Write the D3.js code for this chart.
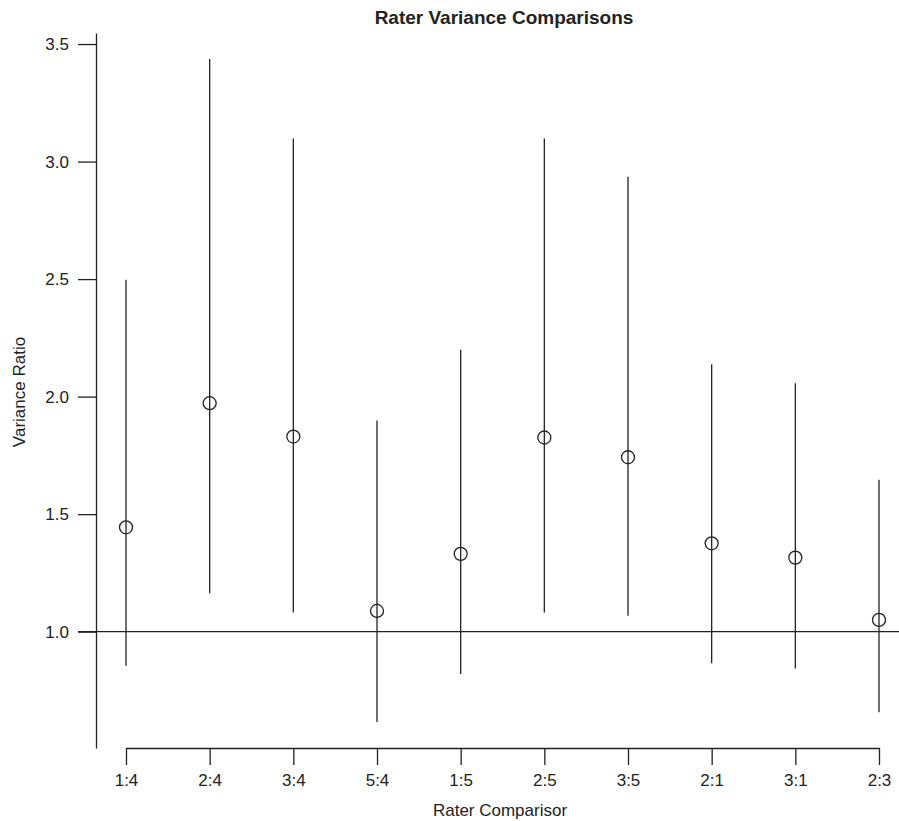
<!DOCTYPE html>
<html>
<head>
<meta charset="utf-8">
<script src="https://cdn.jsdelivr.net/npm/d3@7"></script>
<style>
  html, body { margin: 0; padding: 0; background: #fff; }
  svg { display: block; }
  text { font-family: "Liberation Sans", Arial, Helvetica, sans-serif; fill: #222; }
</style>
</head>
<body>
<svg id="chart" width="899" height="821"></svg>
<script>
// ---- data ----
const categories = ["1:4", "2:4", "3:4", "5:4", "1:5", "2:5", "3:5", "2:1", "3:1", "2:3"];
const estimates  = [1.444, 1.972, 1.830, 1.088, 1.331, 1.826, 1.742, 1.376, 1.315, 1.050];
const lowerCI    = [0.855, 1.163, 1.081, 0.616, 0.820, 1.081, 1.068, 0.866, 0.843, 0.657];
const upperCI    = [2.497, 3.436, 3.098, 1.898, 2.199, 3.098, 2.935, 2.138, 2.057, 1.646];
const yTicks     = [1.0, 1.5, 2.0, 2.5, 3.0, 3.5];
const referenceValue = 1.0;
const titleText  = "Rater Variance Comparisons";
const xLabel     = "Rater Comparisor";
const yLabel     = "Variance Ratio";

const svg = d3.select("#chart");
const ink = "#222";

const x = d3.scalePoint().domain(categories).range([126, 879]);
const y = d3.scaleLinear().domain([0.505, 3.547]).range([748, 33]);

// y axis
const yAxis = svg.append("g")
  .attr("transform", "translate(96,0)")
  .call(d3.axisLeft(y).tickValues(yTicks).tickFormat(d3.format(".1f"))
        .tickSize(18).tickSizeOuter(0).tickPadding(9));
yAxis.selectAll("path, line").attr("stroke", ink).attr("stroke-width", 1.3);
yAxis.selectAll("text").attr("font-size", 17).attr("fill", ink)
  .style("font-family", '"Liberation Sans", Arial, sans-serif');

// x axis
const xAxis = svg.append("g")
  .attr("transform", "translate(0,748)")
  .call(d3.axisBottom(x).tickSize(17).tickSizeOuter(0).tickPadding(9));
xAxis.selectAll("path, line").attr("stroke", ink).attr("stroke-width", 1.3);
xAxis.selectAll("text").attr("font-size", 17).attr("fill", ink)
  .style("font-family", '"Liberation Sans", Arial, sans-serif');

// reference line
svg.append("line")
  .attr("x1", 78).attr("x2", 899)
  .attr("y1", y(referenceValue)).attr("y2", y(referenceValue))
  .attr("stroke", ink).attr("stroke-width", 1.3);

// intervals
const data = categories.map((c, i) => ({ c, est: estimates[i], lo: lowerCI[i], hi: upperCI[i] }));
svg.append("g").selectAll("line").data(data).join("line")
  .attr("x1", d => x(d.c)).attr("x2", d => x(d.c))
  .attr("y1", d => y(d.hi)).attr("y2", d => y(d.lo))
  .attr("stroke", ink).attr("stroke-width", 1.3);

// points
svg.append("g").selectAll("circle").data(data).join("circle")
  .attr("cx", d => x(d.c)).attr("cy", d => y(d.est))
  .attr("r", 6.5)
  .attr("fill", "none").attr("stroke", ink).attr("stroke-width", 1.3);

// title
svg.append("text")
  .attr("x", 504).attr("y", 24)
  .attr("text-anchor", "middle")
  .attr("font-size", 19).attr("font-weight", "bold")
  .text(titleText);

// axis labels
svg.append("text")
  .attr("x", 500).attr("y", 816)
  .attr("text-anchor", "middle")
  .attr("font-size", 17)
  .text(xLabel);

svg.append("text")
  .attr("transform", "translate(25,392) rotate(-90)")
  .attr("text-anchor", "middle")
  .attr("font-size", 17)
  .text(yLabel);
</script>
</body>
</html>
